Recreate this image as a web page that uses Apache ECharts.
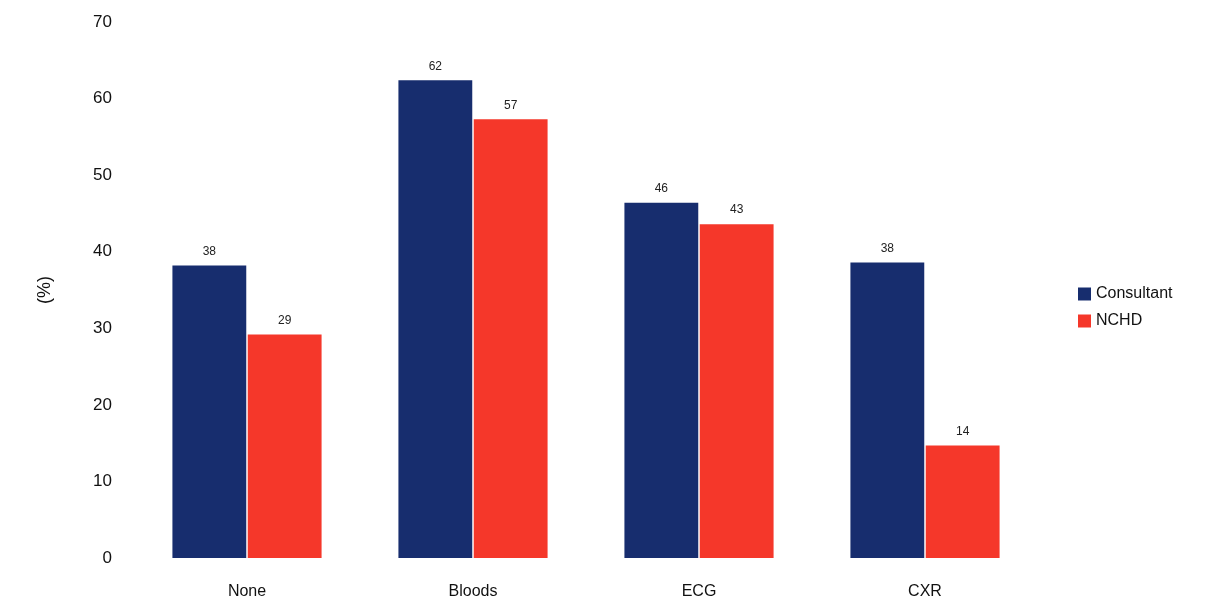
<!DOCTYPE html>
<html>
<head>
<meta charset="utf-8">
<script src="https://cdn.jsdelivr.net/npm/echarts@6/dist/echarts.min.js"></script>
<style>html,body{margin:0;padding:0;background:#fff;}#c{width:1211px;height:605px;}</style>
</head>
<body>
<div id="c"></div>
<script>
const categories = ['None', 'Bloods', 'ECG', 'CXR'];
const consultant = [38.2, 62.4, 46.4, 38.6];
const nchd = [29.2, 57.3, 43.6, 14.7];
const yTicks = [0, 10, 20, 30, 40, 50, 60, 70];

const chart = echarts.init(document.getElementById('c'));
const font = 'Liberation Sans, Arial, sans-serif';
const lbl = {
  show: true, position: 'top', distance: 8,
  fontFamily: font, fontSize: 12, color: '#222',
  formatter: p => String(Math.floor(p.value))
};
chart.setOption({
  animation: false,
  backgroundColor: '#fff',
  grid: { left: 134, right: 173, top: 22, bottom: 47 },
  legend: {
    orient: 'vertical', left: 1073, top: 281,
    itemWidth: 13, itemHeight: 13, itemGap: 11,
    icon: 'rect',
    textStyle: { fontFamily: font, fontSize: 16, color: '#111' },
    data: ['Consultant', 'NCHD']
  },
  xAxis: {
    type: 'category', data: categories,
    axisLine: { show: false }, axisTick: { show: false },
    axisLabel: { fontFamily: font, fontSize: 16, color: '#111', margin: 26 }
  },
  yAxis: {
    type: 'value', min: yTicks[0], max: yTicks[yTicks.length - 1], interval: 10,
    name: '(%)', nameLocation: 'middle', nameRotate: 90, nameGap: 80,
    nameTextStyle: { fontFamily: font, fontSize: 18, color: '#111' },
    axisLine: { show: false }, axisTick: { show: false },
    splitLine: { show: false },
    axisLabel: { fontFamily: font, fontSize: 17, color: '#111', margin: 22 }
  },
  series: [
    { name: 'Consultant', type: 'bar', data: consultant, barGap: '2%', barCategoryGap: '34%',
      itemStyle: { color: '#172d6e' }, label: lbl },
    { name: 'NCHD', type: 'bar', data: nchd,
      itemStyle: { color: '#f5372a' }, label: lbl }
  ]
});
</script>
</body>
</html>
